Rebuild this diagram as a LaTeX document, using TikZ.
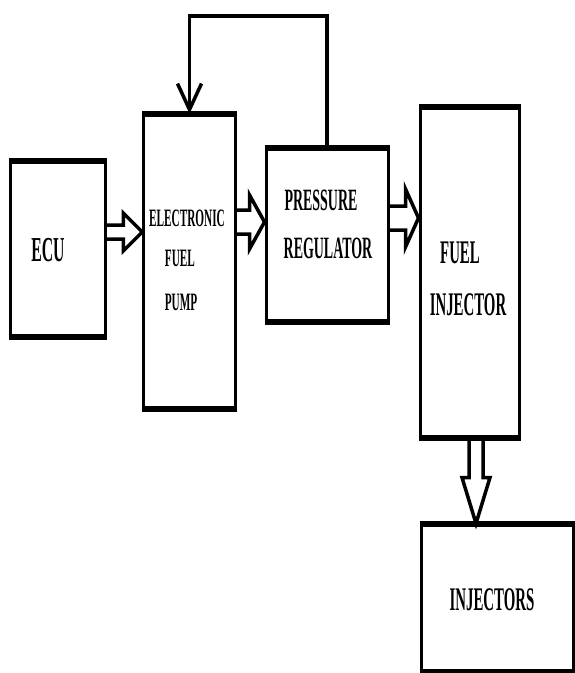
\documentclass[tikz,border=0pt]{standalone}
\usepackage{fontspec}
\newfontfamily\boxfont[FakeStretch=0.45]{Liberation Serif}
\usetikzlibrary{arrows.meta, calc}
\tikzstyle{box} = [draw, line width=3pt, inner sep=0pt]
\tikzstyle{lbl} = [inner sep=0pt, font=\boxfont\bfseries\fontsize{#1}{#1}\selectfont]
\tikzstyle{hollow} = [line width=3.5pt, line join=miter]
\tikzstyle{feedback} = [line width=3.5pt, -{Straight Barb[length=26pt,width=24pt]}]

% hollow block arrow: start, end, shaft half, head half, head length
\newcommand{\harrow}[5]{%
  \draw[hollow] let \p1=(#1), \p2=(#2) in
    (\x1,\y1+#3) -- (\x2-#5,\y1+#3) -- (\x2-#5,\y1+#4) -- (\x2,\y1)
    -- (\x2-#5,\y1-#4) -- (\x2-#5,\y1-#3) -- (\x1,\y1-#3);}
\newcommand{\varrow}[5]{%
  \draw[hollow] let \p1=(#1), \p2=(#2) in
    (\x1-#3,\y1) -- (\x1-#3,\y2+#5) -- (\x1-#4,\y2+#5) -- (\x1,\y2)
    -- (\x1+#4,\y2+#5) -- (\x1+#3,\y2+#5) -- (\x1+#3,\y1);}

\begin{document}
\begin{tikzpicture}[x=1pt, y=-1pt]
        \useasboundingbox (0,0) rectangle (575,673);

        % blocks
        \node[box, minimum width=95, minimum height=173] (ecu) at (57.5,248.5) {};
        \node[box, minimum width=91.5, minimum height=292.5] (efp) at (189.5,261.5) {};
        \node[box, minimum width=122, minimum height=171] (pr) at (327,234.5) {};
        \node[box, minimum width=99, minimum height=328] (fi) at (469.5,272) {};
        \node[box, minimum width=152, minimum height=145] (inj) at (497,597.5) {};
        \foreach \n in {ecu,efp,pr,fi,inj}
            \draw[line width=6pt] (\n.north west) -- (\n.north east)
                (\n.south west) -- (\n.south east);

        % texts
        \node[lbl=35] (ecu-t) at (48,250) {ECU};
        \node[lbl=25] (efp-t1) at (187,218) {ELECTRONIC};
        \node[lbl=25] (efp-t2) at (180,258) {FUEL};
        \node[lbl=25] (efp-t3) at (181,302) {PUMP};
        \node[lbl=31] (pr-t1) at (321,200) {PRESSURE};
        \node[lbl=31] (pr-t2) at (328,248) {REGULATOR};
        \node[lbl=33] (fi-t1) at (460,253) {FUEL};
        \node[lbl=33] (fi-t2) at (468,305) {INJECTOR};
        \node[lbl=33] (inj-t) at (492,600) {INJECTORS};

        % block arrows
        \coordinate (r1) at (0,232);
        \coordinate (r2) at (0,222);
        \coordinate (r3) at (0,218);
        \harrow{ecu.east |- r1}{efp.west |- r1}{7pt}{19pt}{19pt}
        \harrow{efp.east |- r2}{pr.west |- r2}{12pt}{27pt}{15pt}
        \harrow{pr.east |- r3}{fi.west |- r3}{12pt}{29pt}{13pt}
        \coordinate (c1) at (476,0);
        \varrow{fi.south -| c1}{inj.north -| c1}{7pt}{14pt}{46pt}

        % feedback line
        \coordinate (top) at (0,16);
        \draw[feedback] (pr.north) -- (pr.north |- top) -| (efp.north);
\end{tikzpicture}
\end{document}
